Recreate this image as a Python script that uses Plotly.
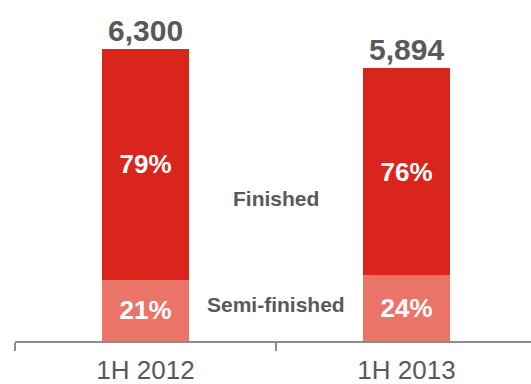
import plotly.graph_objects as go

periods = ["1H 2012", "1H 2013"]
totals = [6300, 5894]
finished_pct = [79, 76]
semi_pct = [21, 24]

semi_vals = [t * p / 100 for t, p in zip(totals, semi_pct)]
finished_vals = [t - s for t, s in zip(totals, semi_vals)]

RED = "#DA251D"
SALMON = "#EA7468"
GREY = "#595959"
FONT = "Liberation Sans, Arial, sans-serif"
BAR_W = 0.33

fig = go.Figure()
fig.add_trace(go.Bar(
    x=periods, y=semi_vals, name="Semi-finished",
    marker=dict(color=SALMON, line=dict(width=0)),
    width=BAR_W,
    text=[f"{p}%" for p in semi_pct], textposition="inside",
    insidetextanchor="middle", textangle=0,
    textfont=dict(family=FONT, size=26, color="white", weight="bold"),
))
fig.add_trace(go.Bar(
    x=periods, y=finished_vals, name="Finished",
    marker=dict(color=RED, line=dict(width=0)),
    width=BAR_W,
    text=[f"{p}%" for p in finished_pct], textposition="inside",
    insidetextanchor="middle", textangle=0,
    textfont=dict(family=FONT, size=26, color="white", weight="bold"),
))

# totals above each bar
for p, t in zip(periods, totals):
    fig.add_annotation(x=p, y=t, text=f"<b>{t:,}</b>", showarrow=False,
                       yanchor="bottom", yshift=0,
                       font=dict(family=FONT, size=30, color=GREY))

# series labels between the bars
fig.add_annotation(x=0.5, y=3085, text="<b>Finished</b>", showarrow=False,
                   xref="x", yref="y",
                   font=dict(family=FONT, size=21, color=GREY))
fig.add_annotation(x=0.5, y=777, text="<b>Semi-finished</b>",
                   showarrow=False, xref="x", yref="y",
                   font=dict(family=FONT, size=21, color=GREY))

fig.update_layout(
    barmode="stack",
    width=531, height=384,
    margin=dict(l=15, r=0, t=20, b=43),
    paper_bgcolor="white", plot_bgcolor="white",
    showlegend=False,
    xaxis=dict(
        type="category", range=[-0.5, 1.477], automargin=False,
        showline=True, linecolor="#8C8C8C", linewidth=2,
        ticks="outside", tickson="boundaries", ticklen=8, tickcolor="#8C8C8C", tickwidth=2,
        tickfont=dict(family=FONT, size=26, color=GREY),
        ticklabelstandoff=5,
        showgrid=False, zeroline=False,
    ),
    yaxis=dict(range=[0, 6925], visible=False, showgrid=False, zeroline=False,
               automargin=False),
)

fig.write_html("out.html")
